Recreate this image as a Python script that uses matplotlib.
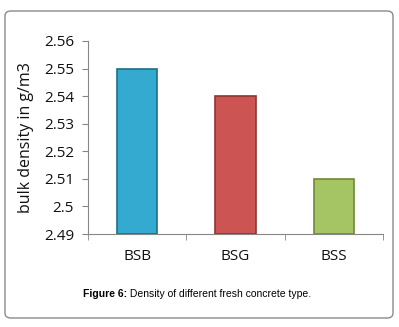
import matplotlib
matplotlib.use("Agg")
import matplotlib.pyplot as plt
from matplotlib.patches import FancyBboxPatch
import numpy as np

categories = ["BSB", "BSG", "BSS"]
density = [2.55, 2.54, 2.51]
bar_colors = ["#35AAD0", "#CC5553", "#A5C463"]
edge_colors = ["#1F6E85", "#8E3533", "#6E8A3A"]
yticks = [2.49, 2.50, 2.51, 2.52, 2.53, 2.54, 2.55, 2.56]
ytick_labels = ["2.49", "2.5", "2.51", "2.52", "2.53", "2.54", "2.55", "2.56"]

plt.rcParams["font.family"] = ["Open Sans", "DejaVu Sans"]

fig = plt.figure(figsize=(3.99, 3.27), dpi=100)

# rounded frame around the figure
frame = FancyBboxPatch((5 / 399, 9 / 327), 388 / 399, 307 / 327,
                       boxstyle="round,pad=0,rounding_size=0.015",
                       transform=fig.transFigure, facecolor="white",
                       edgecolor="#8A8A8A", linewidth=1.0, zorder=-5)
fig.patches.append(frame)

ax = fig.add_axes([88 / 399, 1 - 234 / 327, 295 / 399, 193 / 327])
ax.set_facecolor("none")

x = np.arange(len(categories))
ax.bar(x, np.array(density) - 2.49, bottom=2.49, width=0.41,
       color=bar_colors, edgecolor=edge_colors, linewidth=1.2, zorder=3)

ax.set_xlim(-0.5, 2.5)
ax.set_ylim(2.49, 2.56)
ax.set_yticks(yticks)
ax.set_yticklabels(ytick_labels, fontsize=11, color="#111111")
ax.set_xticks(x)
ax.set_xticklabels(categories, fontsize=11, color="#111111")
ax.set_xticks([-0.5, 0.5, 1.5, 2.5], minor=True)
ax.tick_params(axis="x", which="major", length=0, pad=11)
ax.tick_params(axis="x", which="minor", length=4, color="#868686", direction="out")
ax.tick_params(axis="y", length=4, color="#868686", direction="out", pad=6)

for side in ["top", "right"]:
    ax.spines[side].set_visible(False)
for side in ["left", "bottom"]:
    ax.spines[side].set_color("#868686")

ax.set_ylabel("bulk density in g/m3", fontsize=11.5, labelpad=7, color="#111111")

t1 = fig.text(83 / 399, 1 - 294 / 327, "Figure 6:", fontsize=7.5, fontweight="bold",
              family="Liberation Sans", ha="left", va="center")
ax.annotate(" Density of different fresh concrete type.", xy=(1, 0.5), xycoords=t1,
            fontsize=7.5, family="Liberation Sans", ha="left", va="center",
            annotation_clip=False)

fig.savefig("out.png", dpi=100)
